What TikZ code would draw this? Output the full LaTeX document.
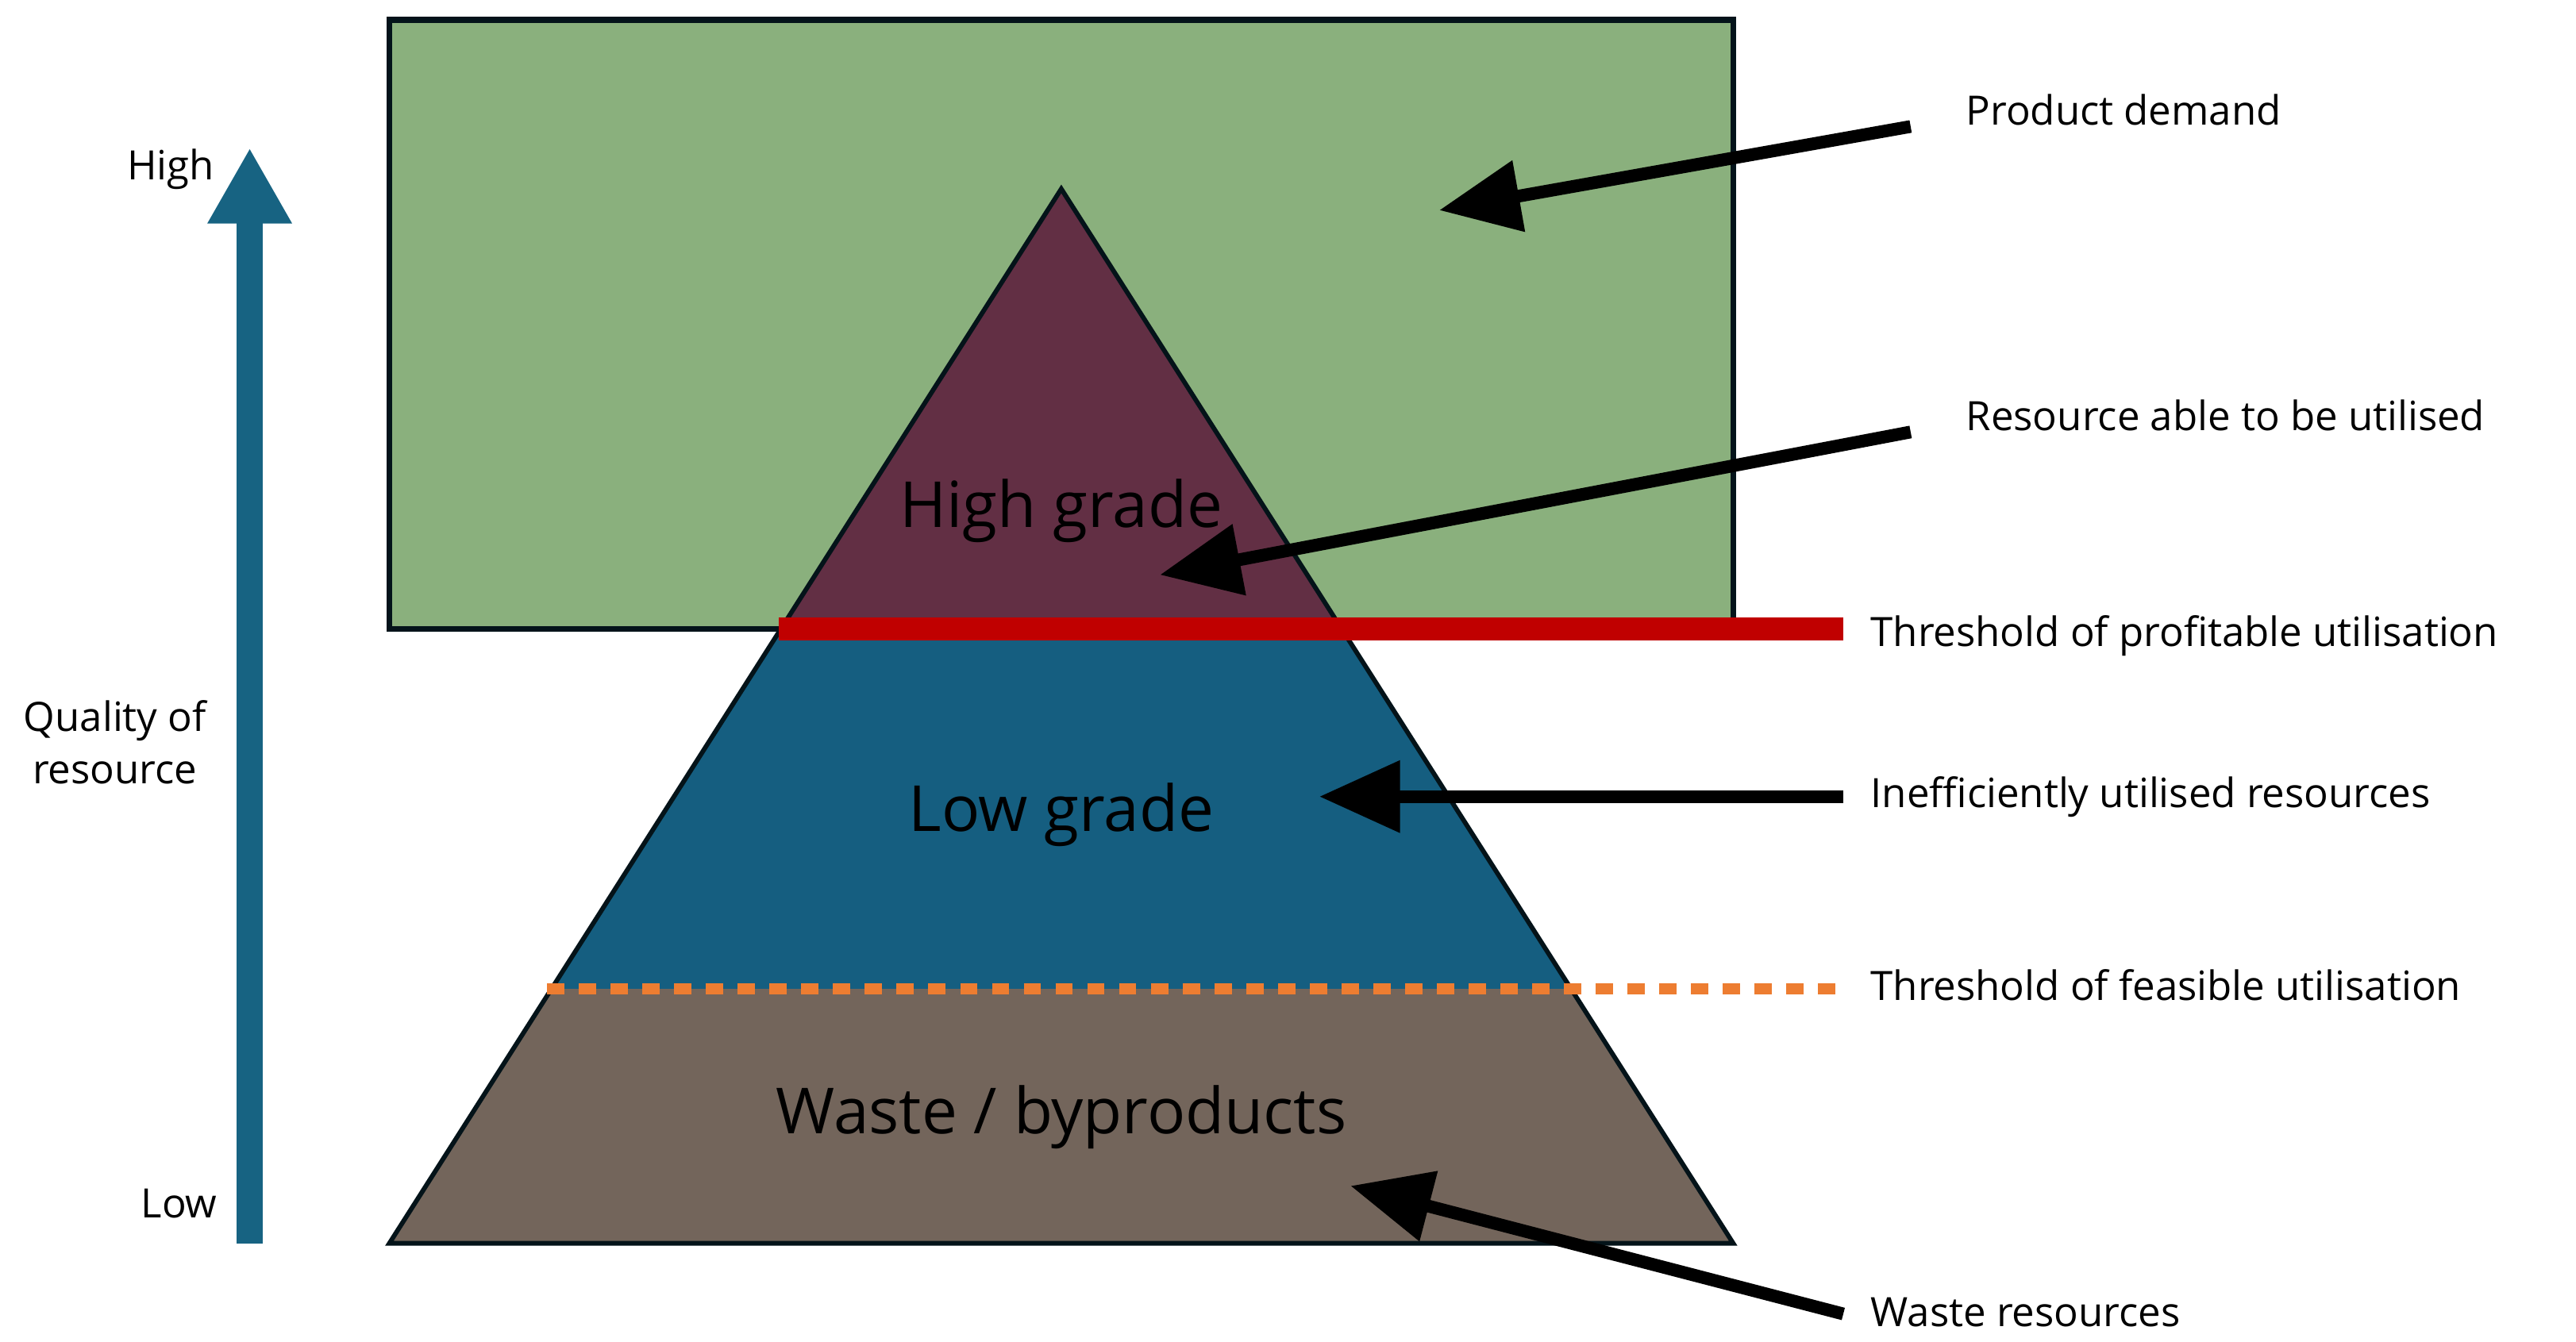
\documentclass[tikz,border=0pt]{standalone}
\usepackage{fontspec}
\setmainfont{Open Sans}
\usetikzlibrary{arrows.meta}
\definecolor{dgreen}{HTML}{8AB07D}
\definecolor{maroon}{HTML}{622F44}
\definecolor{lblue}{HTML}{155E80}
\definecolor{wbrown}{HTML}{73655B}
\definecolor{ablue}{HTML}{176382}
\definecolor{tred}{HTML}{C00000}
\definecolor{torange}{HTML}{ED7D31}
\begin{document}
\begin{tikzpicture}[x=0.01cm,y=-0.01cm,
  lab/.style={anchor=west,font=\fontsize{7}{8}\selectfont,inner sep=0},
  big/.style={font=\fontsize{11}{13}\selectfont,inner sep=0},
  side/.style={font=\fontsize{7}{9}\selectfont,inner sep=0,align=center},
  pt/.style={-{Triangle[length=14,width=12]},line width=2.2pt,black}]
\useasboundingbox (0,0) rectangle (1568,817);
\fill[white] (0,0) rectangle (1568,817);
\draw[fill=dgreen,draw=black!80!lblue,line width=1pt] (237,12) rectangle (1055,383);
\fill[wbrown] (237,757) -- (1055,757) -- (956,602) -- (336,602) -- cycle;
\fill[lblue] (336,602) -- (956,602) -- (817,383) -- (475,383) -- cycle;
\fill[maroon] (475,383) -- (817,383) -- (646,115) -- cycle;
\draw[black!80!lblue,line width=0.8pt] (237,757) -- (1055,757) -- (646,115) -- cycle;
\draw[tred,line width=4pt] (474,383) -- (1122,383);
\draw[torange,line width=2pt,dash pattern=on 3pt off 2.5pt] (333,602) -- (1118,602);
\node[big] (hg) at (646,311) {High grade};
\node[big] (lg) at (646,496) {Low grade};
\node[big] (wb) at (646,680) {Waste / byproducts};
\node[lab] (pd) at (1196,67) {Product demand};
\node[lab] (ra) at (1196,253) {Resource able to be utilised};
\node[lab] (tp) at (1138,387) {Threshold of profitable utilisation};
\node[lab] (iu) at (1138,485) {Inefficiently utilised resources};
\node[lab] (tf) at (1138,600) {Threshold of feasible utilisation};
\node[lab] (wr) at (1138,799) {Waste resources};
\coordinate (pd1) at (1163,77); \coordinate (pd2) at (876,128);
\coordinate (ra1) at (1163,263); \coordinate (ra2) at (706,350);
\coordinate (iu1) at (1122,485); \coordinate (iu2) at (803,485);
\coordinate (wr1) at (1122,800); \coordinate (wr2) at (822,722);
\draw[pt] (pd1) -- (pd2);
\draw[pt] (ra1) -- (ra2);
\draw[pt] (iu1) -- (iu2);
\draw[pt] (wr1) -- (wr2);
\coordinate (qb) at (152,757); \coordinate (qt) at (152,90);
\draw[ablue,line width=16*0.2845pt,-{Triangle[length=46*0.2845pt,width=48*0.2845pt]}] (qb) -- (qt);
\node[side] (hi) at (104,103) {High};
\node[side] (lo) at (109,733) {Low};
\node[side] (q) at (70,452) {Quality of\\resource};
\end{tikzpicture}
\end{document}
